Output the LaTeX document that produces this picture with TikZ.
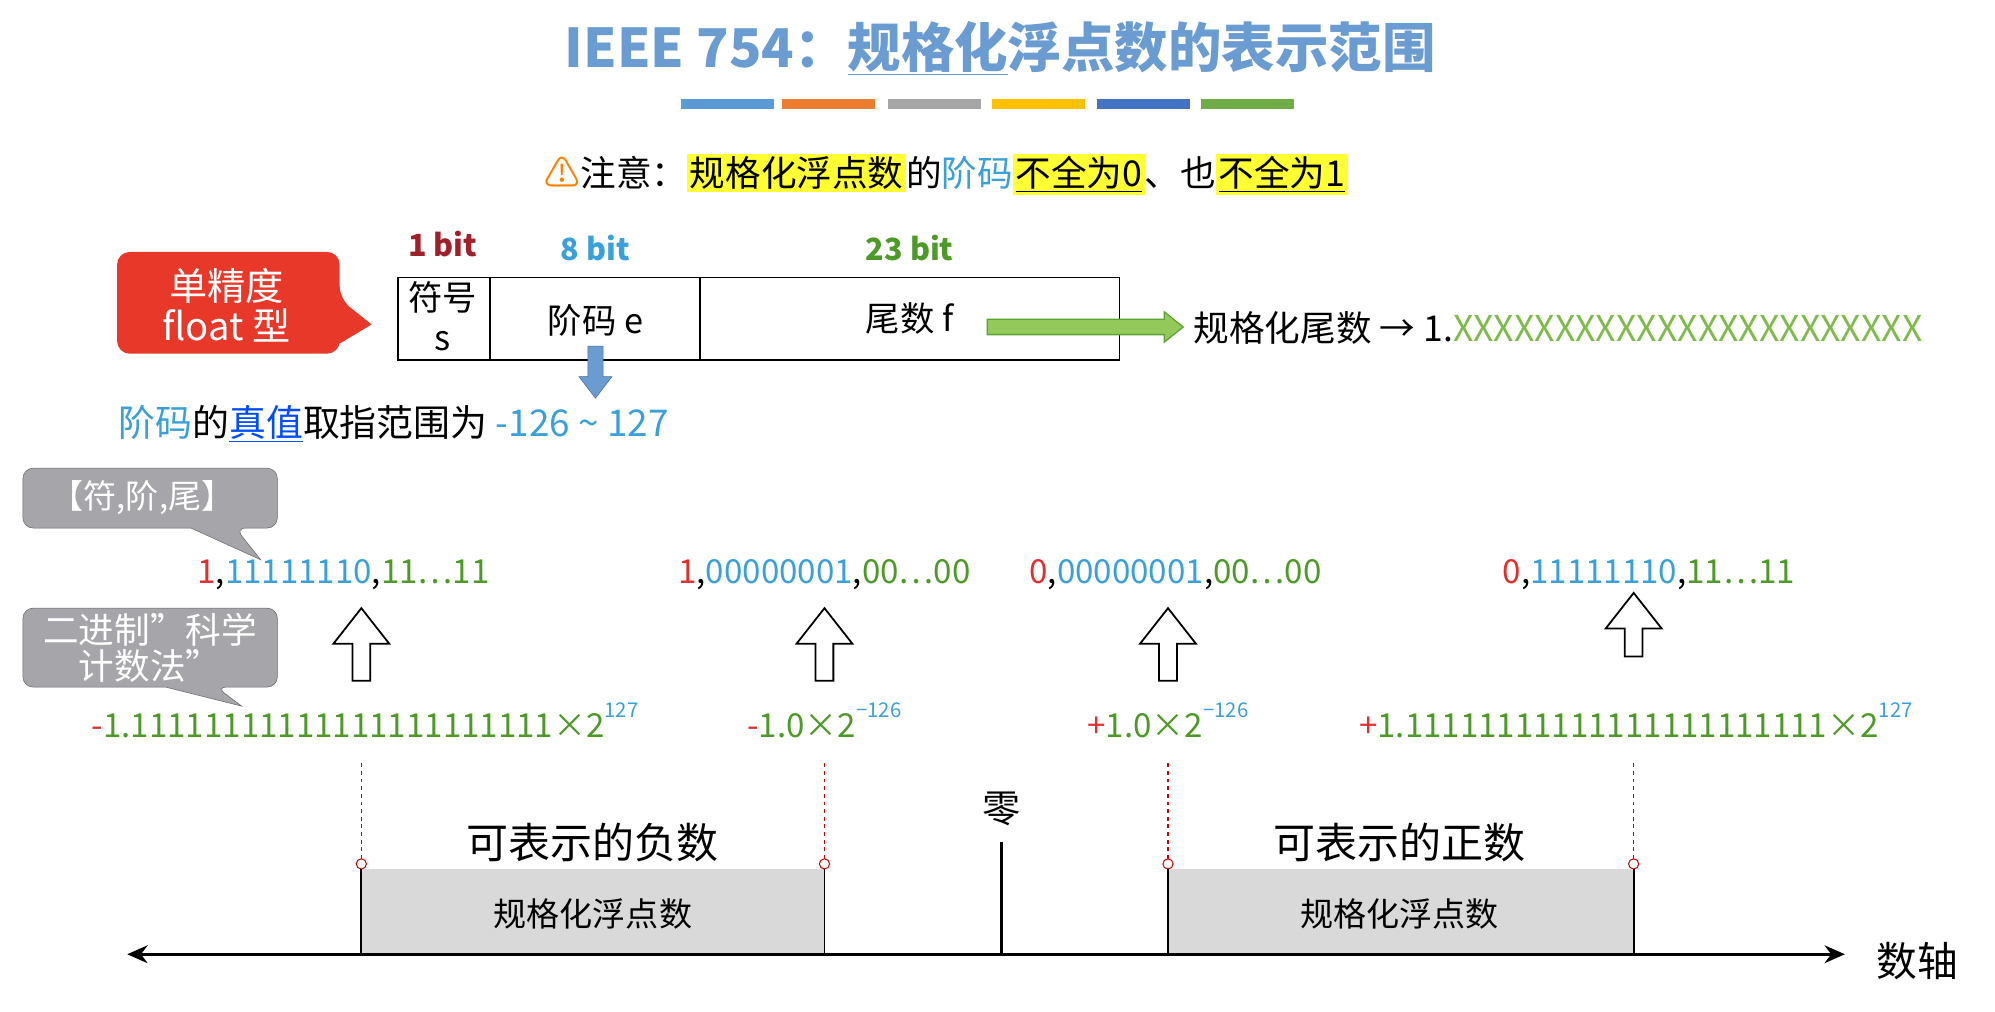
\documentclass[tikz,border=0pt]{standalone}
\usepackage{fontspec}
\setmainfont{Noto Sans CJK SC}
\usetikzlibrary{arrows.meta}
\definecolor{ttl}{HTML}{6A9BD1}
\definecolor{lb}{HTML}{3AA0DA}
\definecolor{dr}{HTML}{A0202A}
\definecolor{gr}{HTML}{4E9A28}
\definecolor{lg}{HTML}{92C95A}
\definecolor{rd}{HTML}{E03030}
\definecolor{hl}{HTML}{FFFF33}
\definecolor{cg}{HTML}{A6A6AA}
\definecolor{cr}{HTML}{E8382A}
\newcommand{\fs}[1]{\fontsize{#1}{#1}\selectfont}
\newcommand{\hlt}[1]{\colorbox{hl}{#1}}
\newcommand{\sups}[1]{\raisebox{0.6em}{\fs{16}\textcolor{lb}{#1}}}
\tikzset{
 txt/.style={inner sep=0pt,font=\fs{25}},
 cell/.style={draw,line width=1.2pt},
 guide/.style={dashed,red!80!black,line width=0.8pt},
}
\newcommand{\hollowup}[3]{% x, ytip, ybottom
 \draw[line width=1.4pt,fill=white] (#1,#2) -- (#1+22,#2+28) -- (#1+7,#2+28) -- (#1+7,#3) -- (#1-7,#3) -- (#1-7,#2+28) -- (#1-22,#2+28) -- cycle;}
\begin{document}
\begin{tikzpicture}[x=1pt,y=-1pt]
\useasboundingbox (0,0) rectangle (1568,795);
% title
\node[txt,font=\fs{42}\bfseries,text=ttl] (title) at (786,38) {IEEE 754：\underline{规格化}浮点数的表示范围};
\foreach \c/\x in {5B9BD5/535,ED7D31/615,A5A5A5/698,FFC000/780,4472C4/862,70AD47/944}{
 \definecolor{tmp}{HTML}{\c}\fill[tmp] (\x,78) rectangle ++(73,8);}
% note
\node[txt,anchor=west,font=\fs{28}] (note) at (428,137) {\textcolor{orange}{⚠}注意：\setlength{\fboxsep}{2pt}\hlt{规格化浮点数}的\textcolor{lb}{阶码}\hlt{\underline{不全为0}}、也\hlt{\underline{不全为1}}};
% bits
\node[txt,font=\fs{24}\bfseries,text=dr] (b1) at (348,192) {1 bit};
\node[txt,font=\fs{24}\bfseries,text=lb] (b8) at (468,195) {8 bit};
\node[txt,font=\fs{24}\bfseries,text=gr] (b23) at (715,195) {23 bit};
\draw[cell] (313,218) rectangle (880,283);
\draw[cell] (385,218) -- (385,283) (550,218) -- (550,283);
\node[txt,font=\fs{27}] (fh) at (348,234) {符号};
\node[txt,font=\fs{27}] (fs) at (348,268) {s};
\node[txt,font=\fs{27}] (je) at (468,252) {阶码 e};
\node[txt,font=\fs{27}] (wf) at (715,250) {尾数 f};
% red callout
\fill[cr,rounded corners=10pt] (92,198) -- (267,198) -- (267,235) [sharp corners]-- (292,255) -- (267,270) [rounded corners=10pt]-- (267,278) -- (92,278) -- cycle;
\node[txt,font=\fs{30},text=white,align=center] (sp) at (178,240) {单精度\\[2pt]float 型};
% green arrow
\fill[lg,draw=gr!80!lg,line width=1pt] (776,251) -- (915,251) -- (915,245) -- (930,257) -- (915,269) -- (915,263) -- (776,263) -- cycle;
\node[txt,anchor=west,font=\fs{28}] (norm) at (938,258) {规格化尾数 → 1.\textcolor{lg!70!gr}{XXXXXXXXXXXXXXXXXXXXXXX}};
% blue down arrow
\fill[ttl,draw=ttl!70!black] (462,272) -- (474,272) -- (474,296) -- (481,296) -- (468,313) -- (455,296) -- (462,296) -- cycle;
\node[txt,anchor=west,font=\fs{29}] (range) at (93,333) {\textcolor{lb}{阶码}的\textcolor{blue!70!cyan}{\underline{真值}}取指范围为 \textcolor{lb}{-126 \textasciitilde{} 127}};
% gray callouts
\fill[cg,draw=gray!80!black,rounded corners=8pt] (18,368) -- (218,368) -- (218,415) -- (185,415) [sharp corners]-- (205,440) -- (150,415) [rounded corners=8pt]-- (18,415) -- cycle;
\node[txt,text=white,font=\fs{26}] (c1) at (112,391) {【符,阶,尾】};
\fill[cg,draw=gray!80!black,rounded corners=8pt] (18,478) -- (218,478) -- (218,540) -- (170,540) [sharp corners]-- (190,555) -- (130,540) [rounded corners=8pt]-- (18,540) -- cycle;
\node[txt,text=white,font=\fs{28},align=center] (c2) at (118,509) {二进制”科学\\[0pt]计数法”};
% codes
\node[txt,font=\fs{26}] (k1) at (270,452) {\textcolor{rd}{1},\textcolor{lb}{11111110},\textcolor{gr}{11…11}};
\node[txt,font=\fs{26}] (k2) at (648,452) {\textcolor{rd}{1},\textcolor{lb}{00000001},\textcolor{gr}{00…00}};
\node[txt,font=\fs{26}] (k3) at (924,452) {\textcolor{rd}{0},\textcolor{lb}{00000001},\textcolor{gr}{00…00}};
\node[txt,font=\fs{26}] (k4) at (1296,452) {\textcolor{rd}{0},\textcolor{lb}{11111110},\textcolor{gr}{11…11}};
\hollowup{284}{478}{535}
\hollowup{648}{478}{535}
\hollowup{918}{478}{535}
\hollowup{1284}{466}{516}
% sci
\newcommand{\ones}{11111111111111111111111}
\node[txt,anchor=west,font=\fs{26}] (s1) at (72,566) {\textcolor{rd}{-}\textcolor{gr}{1.\ones{}×2}\sups{127}};
\node[txt,font=\fs{26}] (s2) at (648,566) {\textcolor{rd}{-}\textcolor{gr}{1.0×2}\sups{−126}};
\node[txt,font=\fs{26}] (s3) at (918,566) {\textcolor{rd}{+}\textcolor{gr}{1.0×2}\sups{−126}};
\node[txt,anchor=west,font=\fs{26}] (s4) at (1068,566) {\textcolor{rd}{+}\textcolor{gr}{1.\ones{}×2}\sups{127}};
% axis area
\fill[gray!30] (284,683) rectangle (648,750);
\fill[gray!30] (918,683) rectangle (1284,750);
\foreach \x in {284,648,918,1284}{
 \draw[guide] (\x,600) -- (\x,675);
 \draw[red!80!black,line width=0.8pt] (\x,679) circle (4);
 \draw[line width=1.5pt] (\x,683) -- (\x,750);}
\coordinate (al) at (100,750);
\coordinate (ar) at (1450,750);
\draw[{Stealth[length=16pt,width=14pt]}-{Stealth[length=16pt,width=14pt]},line width=2pt] (al) -- (ar);
\draw[line width=2.5pt] (787,662) -- (787,750);
\node[txt,font=\fs{30}] (zero) at (787,636) {零};
\node[txt,font=\fs{33}] (neg) at (466,662) {可表示的负数};
\node[txt,font=\fs{33}] (pos) at (1100,662) {可表示的正数};
\node[txt,font=\fs{26}] (n1) at (466,718) {规格化浮点数};
\node[txt,font=\fs{26}] (n2) at (1100,718) {规格化浮点数};
\node[txt,font=\fs{32}] (axis) at (1507,755) {数轴};
\end{tikzpicture}
\end{document}
